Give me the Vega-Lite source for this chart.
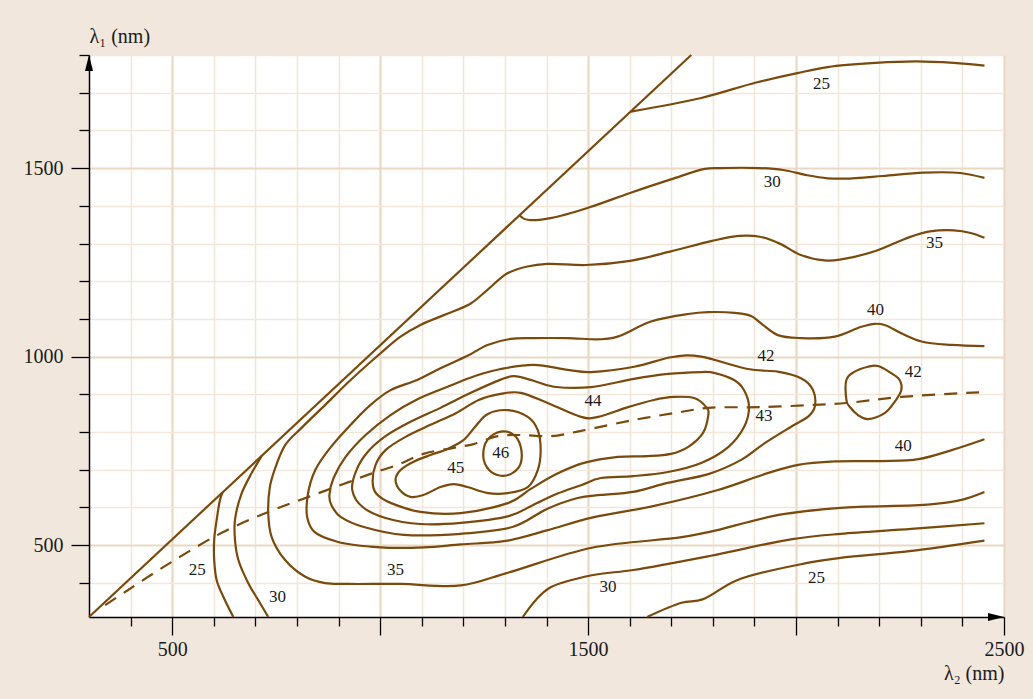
{
  "$schema": "https://vega.github.io/schema/vega-lite/v6.json",
  "width": 915,
  "height": 562,
  "autosize": "none",
  "padding": {"left": 89, "top": 55, "right": 29, "bottom": 82},
  "background": "#f2e7dc",
  "config": {"view": {"fill": "white", "stroke": null}, "font": "Liberation Serif"},
  "datasets": {
    "open": [
      {"c": "diag", "l2": 300, "l1": 309.3}, {"c": "diag", "l2": 1748, "l1": 1800},

      {"c": "c25t", "l2": 1603, "l1": 1650}, {"c": "c25t", "l2": 1772, "l1": 1686}, {"c": "c25t", "l2": 1904, "l1": 1727},
      {"c": "c25t", "l2": 2003, "l1": 1752}, {"c": "c25t", "l2": 2076, "l1": 1768}, {"c": "c25t", "l2": 2191, "l1": 1779},
      {"c": "c25t", "l2": 2289, "l1": 1783}, {"c": "c25t", "l2": 2379, "l1": 1779}, {"c": "c25t", "l2": 2453, "l1": 1772},

      {"c": "c30t", "l2": 1334, "l1": 1376}, {"c": "c30t", "l2": 1345, "l1": 1366}, {"c": "c30t", "l2": 1362, "l1": 1362},
      {"c": "c30t", "l2": 1413, "l1": 1368}, {"c": "c30t", "l2": 1503, "l1": 1396}, {"c": "c30t", "l2": 1601, "l1": 1434},
      {"c": "c30t", "l2": 1699, "l1": 1470}, {"c": "c30t", "l2": 1781, "l1": 1498}, {"c": "c30t", "l2": 1814, "l1": 1500},
      {"c": "c30t", "l2": 1913, "l1": 1500}, {"c": "c30t", "l2": 1969, "l1": 1495}, {"c": "c30t", "l2": 2027, "l1": 1481},
      {"c": "c30t", "l2": 2076, "l1": 1473}, {"c": "c30t", "l2": 2117, "l1": 1472}, {"c": "c30t", "l2": 2208, "l1": 1479},
      {"c": "c30t", "l2": 2306, "l1": 1488}, {"c": "c30t", "l2": 2395, "l1": 1487}, {"c": "c30t", "l2": 2453, "l1": 1474},

      {"c": "c35", "l2": 2453, "l1": 1315}, {"c": "c35", "l2": 2420, "l1": 1328}, {"c": "c35", "l2": 2379, "l1": 1335},
      {"c": "c35", "l2": 2322, "l1": 1332}, {"c": "c35", "l2": 2273, "l1": 1317}, {"c": "c35", "l2": 2191, "l1": 1280},
      {"c": "c35", "l2": 2109, "l1": 1258}, {"c": "c35", "l2": 2068, "l1": 1255}, {"c": "c35", "l2": 2010, "l1": 1270},
      {"c": "c35", "l2": 1962, "l1": 1299}, {"c": "c35", "l2": 1913, "l1": 1318}, {"c": "c35", "l2": 1863, "l1": 1320},
      {"c": "c35", "l2": 1798, "l1": 1307}, {"c": "c35", "l2": 1699, "l1": 1279}, {"c": "c35", "l2": 1601, "l1": 1254},
      {"c": "c35", "l2": 1495, "l1": 1243}, {"c": "c35", "l2": 1402, "l1": 1246}, {"c": "c35", "l2": 1354, "l1": 1239},
      {"c": "c35", "l2": 1306, "l1": 1221}, {"c": "c35", "l2": 1258, "l1": 1177}, {"c": "c35", "l2": 1218, "l1": 1141},
      {"c": "c35", "l2": 1153, "l1": 1110}, {"c": "c35", "l2": 1097, "l1": 1084}, {"c": "c35", "l2": 1049, "l1": 1053},
      {"c": "c35", "l2": 1001, "l1": 1009}, {"c": "c35", "l2": 929, "l1": 938}, {"c": "c35", "l2": 868, "l1": 872},
      {"c": "c35", "l2": 811, "l1": 811}, {"c": "c35", "l2": 772, "l1": 766}, {"c": "c35", "l2": 746, "l1": 699},
      {"c": "c35", "l2": 735, "l1": 655}, {"c": "c35", "l2": 731, "l1": 584}, {"c": "c35", "l2": 739, "l1": 522},
      {"c": "c35", "l2": 771, "l1": 461}, {"c": "c35", "l2": 820, "l1": 416}, {"c": "c35", "l2": 868, "l1": 399},
      {"c": "c35", "l2": 924, "l1": 397}, {"c": "c35", "l2": 1049, "l1": 397}, {"c": "c35", "l2": 1194, "l1": 393},
      {"c": "c35", "l2": 1302, "l1": 425}, {"c": "c35", "l2": 1509, "l1": 493}, {"c": "c35", "l2": 1725, "l1": 521},
      {"c": "c35", "l2": 1792, "l1": 535}, {"c": "c35", "l2": 1958, "l1": 580}, {"c": "c35", "l2": 2107, "l1": 599},
      {"c": "c35", "l2": 2323, "l1": 608}, {"c": "c35", "l2": 2398, "l1": 620}, {"c": "c35", "l2": 2453, "l1": 641},

      {"c": "c40", "l2": 2453, "l1": 1028}, {"c": "c40", "l2": 2374, "l1": 1031}, {"c": "c40", "l2": 2302, "l1": 1040},
      {"c": "c40", "l2": 2253, "l1": 1062}, {"c": "c40", "l2": 2213, "l1": 1084}, {"c": "c40", "l2": 2189, "l1": 1087},
      {"c": "c40", "l2": 2157, "l1": 1079}, {"c": "c40", "l2": 2093, "l1": 1053}, {"c": "c40", "l2": 2013, "l1": 1049},
      {"c": "c40", "l2": 1956, "l1": 1057}, {"c": "c40", "l2": 1916, "l1": 1088}, {"c": "c40", "l2": 1892, "l1": 1108},
      {"c": "c40", "l2": 1852, "l1": 1116}, {"c": "c40", "l2": 1788, "l1": 1118}, {"c": "c40", "l2": 1740, "l1": 1113},
      {"c": "c40", "l2": 1651, "l1": 1093}, {"c": "c40", "l2": 1571, "l1": 1053}, {"c": "c40", "l2": 1531, "l1": 1046},
      {"c": "c40", "l2": 1451, "l1": 1049}, {"c": "c40", "l2": 1370, "l1": 1049}, {"c": "c40", "l2": 1314, "l1": 1047},
      {"c": "c40", "l2": 1258, "l1": 1031}, {"c": "c40", "l2": 1210, "l1": 1002}, {"c": "c40", "l2": 1145, "l1": 969},
      {"c": "c40", "l2": 1089, "l1": 938}, {"c": "c40", "l2": 1025, "l1": 911}, {"c": "c40", "l2": 977, "l1": 872},
      {"c": "c40", "l2": 929, "l1": 819}, {"c": "c40", "l2": 880, "l1": 758}, {"c": "c40", "l2": 844, "l1": 699},
      {"c": "c40", "l2": 826, "l1": 633}, {"c": "c40", "l2": 825, "l1": 572}, {"c": "c40", "l2": 842, "l1": 535},
      {"c": "c40", "l2": 897, "l1": 509}, {"c": "c40", "l2": 1001, "l1": 494}, {"c": "c40", "l2": 1105, "l1": 494},
      {"c": "c40", "l2": 1194, "l1": 502}, {"c": "c40", "l2": 1302, "l1": 511}, {"c": "c40", "l2": 1401, "l1": 539},
      {"c": "c40", "l2": 1509, "l1": 573}, {"c": "c40", "l2": 1651, "l1": 602}, {"c": "c40", "l2": 1812, "l1": 646},
      {"c": "c40", "l2": 1932, "l1": 691}, {"c": "c40", "l2": 2005, "l1": 713}, {"c": "c40", "l2": 2093, "l1": 722},
      {"c": "c40", "l2": 2205, "l1": 723}, {"c": "c40", "l2": 2294, "l1": 728}, {"c": "c40", "l2": 2374, "l1": 752},
      {"c": "c40", "l2": 2453, "l1": 781},

      {"c": "c25l", "l2": 621, "l1": 639}, {"c": "c25l", "l2": 615, "l1": 620}, {"c": "c25l", "l2": 607, "l1": 567},
      {"c": "c25l", "l2": 601, "l1": 514}, {"c": "c25l", "l2": 601, "l1": 461}, {"c": "c25l", "l2": 607, "l1": 407},
      {"c": "c25l", "l2": 623, "l1": 363}, {"c": "c25l", "l2": 647, "l1": 309.3},

      {"c": "c30l", "l2": 715, "l1": 736}, {"c": "c30l", "l2": 691, "l1": 691}, {"c": "c30l", "l2": 667, "l1": 637},
      {"c": "c30l", "l2": 651, "l1": 567}, {"c": "c30l", "l2": 651, "l1": 514}, {"c": "c30l", "l2": 659, "l1": 461},
      {"c": "c30l", "l2": 683, "l1": 399}, {"c": "c30l", "l2": 707, "l1": 354}, {"c": "c30l", "l2": 731, "l1": 309.3},

      {"c": "c30b", "l2": 1343, "l1": 309.3}, {"c": "c30b", "l2": 1374, "l1": 354}, {"c": "c30b", "l2": 1410, "l1": 388},
      {"c": "c30b", "l2": 1509, "l1": 420}, {"c": "c30b", "l2": 1609, "l1": 434}, {"c": "c30b", "l2": 1792, "l1": 471},
      {"c": "c30b", "l2": 1991, "l1": 516}, {"c": "c30b", "l2": 2107, "l1": 530}, {"c": "c30b", "l2": 2277, "l1": 543},
      {"c": "c30b", "l2": 2453, "l1": 558},

      {"c": "c25b", "l2": 1642, "l1": 309.3}, {"c": "c25b", "l2": 1725, "l1": 347}, {"c": "c25b", "l2": 1775, "l1": 356},
      {"c": "c25b", "l2": 1858, "l1": 407}, {"c": "c25b", "l2": 2024, "l1": 452}, {"c": "c25b", "l2": 2107, "l1": 466},
      {"c": "c25b", "l2": 2273, "l1": 484}, {"c": "c25b", "l2": 2453, "l1": 512}
    ],
    "loops": [
      {"c": "c42", "l2": 878, "l1": 633}, {"c": "c42", "l2": 888, "l1": 678}, {"c": "c42", "l2": 917, "l1": 734},
      {"c": "c42", "l2": 965, "l1": 792}, {"c": "c42", "l2": 1025, "l1": 845}, {"c": "c42", "l2": 1092, "l1": 888},
      {"c": "c42", "l2": 1162, "l1": 920}, {"c": "c42", "l2": 1230, "l1": 949}, {"c": "c42", "l2": 1290, "l1": 967},
      {"c": "c42", "l2": 1369, "l1": 978}, {"c": "c42", "l2": 1451, "l1": 965}, {"c": "c42", "l2": 1507, "l1": 959},
      {"c": "c42", "l2": 1611, "l1": 973}, {"c": "c42", "l2": 1703, "l1": 999}, {"c": "c42", "l2": 1772, "l1": 1000},
      {"c": "c42", "l2": 1884, "l1": 967}, {"c": "c42", "l2": 1956, "l1": 960}, {"c": "c42", "l2": 2013, "l1": 942},
      {"c": "c42", "l2": 2041, "l1": 911}, {"c": "c42", "l2": 2045, "l1": 867}, {"c": "c42", "l2": 2029, "l1": 841},
      {"c": "c42", "l2": 1988, "l1": 814}, {"c": "c42", "l2": 1924, "l1": 770}, {"c": "c42", "l2": 1868, "l1": 726},
      {"c": "c42", "l2": 1791, "l1": 689}, {"c": "c42", "l2": 1691, "l1": 665}, {"c": "c42", "l2": 1608, "l1": 641},
      {"c": "c42", "l2": 1531, "l1": 633}, {"c": "c42", "l2": 1475, "l1": 625}, {"c": "c42", "l2": 1401, "l1": 596},
      {"c": "c42", "l2": 1318, "l1": 548}, {"c": "c42", "l2": 1194, "l1": 530}, {"c": "c42", "l2": 1057, "l1": 527},
      {"c": "c42", "l2": 961, "l1": 548}, {"c": "c42", "l2": 905, "l1": 575}, {"c": "c42", "l2": 883, "l1": 606},

      {"c": "c42r", "l2": 2121, "l1": 938}, {"c": "c42r", "l2": 2141, "l1": 960}, {"c": "c42r", "l2": 2173, "l1": 973},
      {"c": "c42r", "l2": 2197, "l1": 975}, {"c": "c42r", "l2": 2229, "l1": 956}, {"c": "c42r", "l2": 2249, "l1": 938},
      {"c": "c42r", "l2": 2253, "l1": 911}, {"c": "c42r", "l2": 2237, "l1": 880}, {"c": "c42r", "l2": 2213, "l1": 850},
      {"c": "c42r", "l2": 2173, "l1": 834}, {"c": "c42r", "l2": 2149, "l1": 845}, {"c": "c42r", "l2": 2129, "l1": 867},
      {"c": "c42r", "l2": 2121, "l1": 885},

      {"c": "c43", "l2": 933, "l1": 646}, {"c": "c43", "l2": 943, "l1": 699}, {"c": "c43", "l2": 970, "l1": 747},
      {"c": "c43", "l2": 1013, "l1": 789}, {"c": "c43", "l2": 1073, "l1": 827}, {"c": "c43", "l2": 1145, "l1": 864},
      {"c": "c43", "l2": 1218, "l1": 904}, {"c": "c43", "l2": 1290, "l1": 939}, {"c": "c43", "l2": 1322, "l1": 948},
      {"c": "c43", "l2": 1369, "l1": 936}, {"c": "c43", "l2": 1418, "l1": 920}, {"c": "c43", "l2": 1507, "l1": 919},
      {"c": "c43", "l2": 1610, "l1": 941}, {"c": "c43", "l2": 1692, "l1": 954}, {"c": "c43", "l2": 1772, "l1": 959},
      {"c": "c43", "l2": 1803, "l1": 957}, {"c": "c43", "l2": 1851, "l1": 938}, {"c": "c43", "l2": 1875, "l1": 911},
      {"c": "c43", "l2": 1887, "l1": 866}, {"c": "c43", "l2": 1875, "l1": 813}, {"c": "c43", "l2": 1837, "l1": 760},
      {"c": "c43", "l2": 1772, "l1": 718}, {"c": "c43", "l2": 1692, "l1": 694}, {"c": "c43", "l2": 1608, "l1": 683},
      {"c": "c43", "l2": 1531, "l1": 678}, {"c": "c43", "l2": 1483, "l1": 659}, {"c": "c43", "l2": 1425, "l1": 636},
      {"c": "c43", "l2": 1367, "l1": 606}, {"c": "c43", "l2": 1309, "l1": 577}, {"c": "c43", "l2": 1194, "l1": 559},
      {"c": "c43", "l2": 1097, "l1": 556}, {"c": "c43", "l2": 1013, "l1": 572}, {"c": "c43", "l2": 958, "l1": 601},

      {"c": "c44", "l2": 982, "l1": 667}, {"c": "c44", "l2": 989, "l1": 713}, {"c": "c44", "l2": 1013, "l1": 752},
      {"c": "c44", "l2": 1061, "l1": 787}, {"c": "c44", "l2": 1121, "l1": 819}, {"c": "c44", "l2": 1182, "l1": 850},
      {"c": "c44", "l2": 1237, "l1": 885}, {"c": "c44", "l2": 1290, "l1": 901}, {"c": "c44", "l2": 1338, "l1": 904},
      {"c": "c44", "l2": 1403, "l1": 877}, {"c": "c44", "l2": 1483, "l1": 840}, {"c": "c44", "l2": 1524, "l1": 840},
      {"c": "c44", "l2": 1596, "l1": 866}, {"c": "c44", "l2": 1658, "l1": 885}, {"c": "c44", "l2": 1707, "l1": 893},
      {"c": "c44", "l2": 1755, "l1": 890}, {"c": "c44", "l2": 1784, "l1": 866}, {"c": "c44", "l2": 1789, "l1": 845},
      {"c": "c44", "l2": 1776, "l1": 797}, {"c": "c44", "l2": 1740, "l1": 760}, {"c": "c44", "l2": 1699, "l1": 742},
      {"c": "c44", "l2": 1644, "l1": 736}, {"c": "c44", "l2": 1572, "l1": 734}, {"c": "c44", "l2": 1490, "l1": 718},
      {"c": "c44", "l2": 1425, "l1": 689}, {"c": "c44", "l2": 1362, "l1": 649}, {"c": "c44", "l2": 1309, "l1": 612},
      {"c": "c44", "l2": 1194, "l1": 585}, {"c": "c44", "l2": 1097, "l1": 588}, {"c": "c44", "l2": 1025, "l1": 612},
      {"c": "c44", "l2": 991, "l1": 636},

      {"c": "c45", "l2": 1037, "l1": 673}, {"c": "c45", "l2": 1049, "l1": 699}, {"c": "c45", "l2": 1078, "l1": 720},
      {"c": "c45", "l2": 1121, "l1": 739}, {"c": "c45", "l2": 1162, "l1": 755}, {"c": "c45", "l2": 1201, "l1": 779},
      {"c": "c45", "l2": 1230, "l1": 816}, {"c": "c45", "l2": 1259, "l1": 848}, {"c": "c45", "l2": 1307, "l1": 858},
      {"c": "c45", "l2": 1355, "l1": 840}, {"c": "c45", "l2": 1379, "l1": 805}, {"c": "c45", "l2": 1386, "l1": 752},
      {"c": "c45", "l2": 1379, "l1": 699}, {"c": "c45", "l2": 1355, "l1": 654}, {"c": "c45", "l2": 1307, "l1": 638},
      {"c": "c45", "l2": 1259, "l1": 638}, {"c": "c45", "l2": 1210, "l1": 654}, {"c": "c45", "l2": 1177, "l1": 662},
      {"c": "c45", "l2": 1145, "l1": 654}, {"c": "c45", "l2": 1104, "l1": 633}, {"c": "c45", "l2": 1073, "l1": 628},
      {"c": "c45", "l2": 1049, "l1": 644},

      {"c": "c46", "l2": 1258, "l1": 779}, {"c": "c46", "l2": 1290, "l1": 801}, {"c": "c46", "l2": 1322, "l1": 792},
      {"c": "c46", "l2": 1338, "l1": 761}, {"c": "c46", "l2": 1338, "l1": 717}, {"c": "c46", "l2": 1318, "l1": 691},
      {"c": "c46", "l2": 1290, "l1": 684}, {"c": "c46", "l2": 1262, "l1": 699}, {"c": "c46", "l2": 1248, "l1": 735}
    ],
    "dashed": [
      {"l2": 339, "l1": 341}, {"l2": 394, "l1": 381}, {"l2": 498, "l1": 455}, {"l2": 618, "l1": 532},
      {"l2": 731, "l1": 588}, {"l2": 828, "l1": 628}, {"l2": 924, "l1": 667}, {"l2": 977, "l1": 689},
      {"l2": 1042, "l1": 713}, {"l2": 1104, "l1": 742}, {"l2": 1177, "l1": 758}, {"l2": 1225, "l1": 768},
      {"l2": 1283, "l1": 789}, {"l2": 1338, "l1": 792}, {"l2": 1410, "l1": 789}, {"l2": 1483, "l1": 803},
      {"l2": 1610, "l1": 832}, {"l2": 1723, "l1": 853}, {"l2": 1789, "l1": 864}, {"l2": 1916, "l1": 866},
      {"l2": 2044, "l1": 872}, {"l2": 2121, "l1": 877}, {"l2": 2253, "l1": 893}, {"l2": 2453, "l1": 906}
    ],
    "labels": [
      {"t": "25", "l2": 560, "l1": 434}, {"t": "30", "l2": 753, "l1": 362},
      {"t": "25", "l2": 2061, "l1": 1723}, {"t": "30", "l2": 1943, "l1": 1463},
      {"t": "35", "l2": 2333, "l1": 1301}, {"t": "40", "l2": 2191, "l1": 1124},
      {"t": "42", "l2": 1928, "l1": 1002}, {"t": "42", "l2": 2282, "l1": 959},
      {"t": "44", "l2": 1512, "l1": 882}, {"t": "43", "l2": 1923, "l1": 842},
      {"t": "45", "l2": 1182, "l1": 705}, {"t": "46", "l2": 1290, "l1": 744},
      {"t": "40", "l2": 2258, "l1": 763}, {"t": "35", "l2": 1037, "l1": 434},
      {"t": "30", "l2": 1548, "l1": 388}, {"t": "25", "l2": 2049, "l1": 414}
    ],
    "arrows": [
      {"dir": "up", "l2": 300, "l1": 1800},
      {"dir": "right", "l2": 2500, "l1": 309.3}
    ]
  },
  "encoding": {
    "x": {
      "field": "l2",
      "type": "quantitative",
      "scale": {"domain": [300, 2500], "nice": false, "zero": false},
      "axis": {
        "title": "λ₂ (nm)",
        "values": [400, 500, 600, 700, 800, 900, 1000, 1100, 1200, 1300, 1400, 1500, 1600, 1700, 1800, 1900, 2000, 2100, 2200, 2300, 2400, 2500],
        "format": "d",
        "labelExpr": "datum.value % 1000 == 500 ? datum.label : ''",
        "grid": true,
        "gridColor": {"condition": {"test": "datum.value % 500 == 0", "value": "#ead8c3"}, "value": "#f3e6d9"},
        "gridWidth": {"condition": {"test": "datum.value % 500 == 0", "value": 2.2}, "value": 1.6},
        "tickSize": {"condition": {"test": "datum.value % 500 == 0", "value": 18}, "value": 9},
        "tickColor": "black",
        "tickWidth": 1.3,
        "domainColor": "black",
        "domainWidth": 1.5,
        "labelFont": "Liberation Serif",
        "labelFontSize": 20,
        "labelColor": "#1a1a1a",
        "labelPadding": 4,
        "labelFlush": false,
        "labelOverlap": false,
        "titleFont": "Liberation Serif",
        "titleFontSize": 20,
        "titleFontWeight": "normal",
        "titleColor": "#1a1a1a",
        "titleAlign": "right",
        "titleBaseline": "alphabetic",
        "titleX": 915,
        "titleY": 62
      }
    },
    "y": {
      "field": "l1",
      "type": "quantitative",
      "scale": {"domain": [309.3, 1800], "nice": false, "zero": false},
      "axis": {
        "title": "λ₁ (nm)",
        "values": [400, 500, 600, 700, 800, 900, 1000, 1100, 1200, 1300, 1400, 1500, 1600, 1700, 1800],
        "format": "d",
        "labelExpr": "datum.value % 500 == 0 ? datum.label : ''",
        "grid": true,
        "gridColor": {"condition": {"test": "datum.value % 500 == 0", "value": "#ead8c3"}, "value": "#f3e6d9"},
        "gridWidth": {"condition": {"test": "datum.value % 500 == 0", "value": 2.2}, "value": 1.6},
        "tickSize": {"condition": {"test": "datum.value % 500 == 0", "value": 18}, "value": 10},
        "tickColor": "black",
        "tickWidth": 1.3,
        "domainColor": "black",
        "domainWidth": 1.5,
        "labelFont": "Liberation Serif",
        "labelFontSize": 20,
        "labelColor": "#1a1a1a",
        "labelPadding": 8,
        "labelFlush": false,
        "labelOverlap": false,
        "titleFont": "Liberation Serif",
        "titleFontSize": 20,
        "titleFontWeight": "normal",
        "titleColor": "#1a1a1a",
        "titleAngle": 0,
        "titleAlign": "left",
        "titleBaseline": "alphabetic",
        "titleX": 0,
        "titleY": -13
      }
    }
  },
  "layer": [
    {
      "data": {"name": "open"},
      "mark": {"type": "line", "interpolate": "catmull-rom", "color": "#7a4a0c", "strokeWidth": 2.2},
      "encoding": {"detail": {"field": "c", "type": "nominal"}, "order": {"value": null}}
    },
    {
      "data": {"name": "loops"},
      "mark": {"type": "line", "interpolate": "cardinal-closed", "color": "#7a4a0c", "strokeWidth": 2.2},
      "encoding": {"detail": {"field": "c", "type": "nominal"}, "order": {"value": null}}
    },
    {
      "data": {"name": "dashed"},
      "mark": {"type": "line", "interpolate": "catmull-rom", "color": "#7a4a0c", "strokeWidth": 2.2, "strokeDash": [13, 9]},
      "encoding": {"order": {"value": null}}
    },
    {
      "data": {"name": "labels"},
      "mark": {"type": "text", "font": "Liberation Serif", "fontSize": 17, "color": "#1a1a1a", "align": "center", "baseline": "middle"},
      "encoding": {"text": {"field": "t", "type": "nominal"}}
    },
    {
      "data": {"name": "arrows"},
      "mark": {"type": "point", "filled": true, "opacity": 1, "color": "black", "size": 1024, "strokeWidth": 0},
      "encoding": {
        "shape": {
          "field": "dir",
          "type": "nominal",
          "scale": {"domain": ["up", "right"], "range": ["M0,0L-0.25,1L0.25,1Z", "M0,0L-1,-0.25L-1,0.25Z"]},
          "legend": null
        }
      }
    }
  ]
}
